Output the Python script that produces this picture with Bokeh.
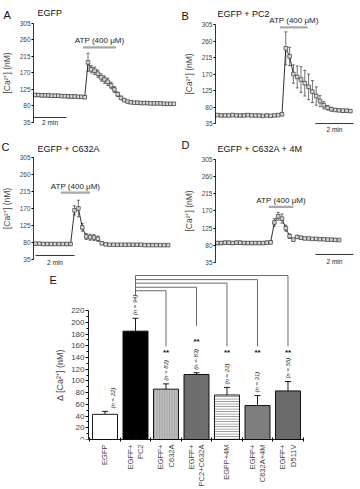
import math
from bokeh.plotting import figure
from bokeh.layouts import column, row
from bokeh.models import Range1d, FixedTicker, Label, Whisker, TeeHead, ColumnDataSource
from bokeh.embed import file_html
from bokeh.resources import INLINE
from bokeh.core.properties import value

FONT = "Liberation Sans"
STEP_MIN = 0.2  # sampling interval of the traces (min)

# ---------------- data: Ca2+ traces (nM), mean and SEM ----------------
A_ca = [110, 110, 109, 109, 109, 108, 108, 108, 107, 107, 106, 106, 106, 105, 105, 104,
        199, 180, 176, 168, 158, 152, 146, 136, 125, 112, 102, 96, 92, 90,
        89, 89, 88, 88, 88, 87, 87, 87, 87, 86, 86, 86, 86]
A_sem = [4, 4, 4, 4, 4, 4, 4, 4, 4, 4, 4, 4, 4, 4, 4, 4,
         25, 10, 10, 10, 10, 10, 10, 9, 8, 6, 5, 4, 3, 3,
         3, 3, 3, 3, 3, 3, 3, 3, 3, 3, 3, 3, 3]

B_ca = [58, 57, 57, 57, 58, 57, 57, 57, 58, 57, 57, 57, 56, 57, 56, 57, 58, 60,
        240, 218, 170, 162, 155, 145, 135, 122, 110, 96, 85, 78, 74,
        72, 71, 70, 70, 69]
B_sem = [3, 3, 3, 3, 3, 3, 3, 3, 3, 3, 3, 3, 3, 3, 3, 3, 3, 3,
         45, 25, 25, 30, 35, 35, 35, 30, 25, 15, 10, 6, 5,
         4, 4, 4, 4, 4]

C_ca = [77, 77, 76, 76, 76, 76, 76, 76, 76, 76,
        165, 170, 120, 96, 94, 93, 90, 78, 75,
        74, 74, 74, 74, 74, 74, 74, 74, 74, 73, 73, 73, 73, 73, 73, 73]
C_sem = [3, 3, 3, 3, 3, 3, 3, 3, 3, 3,
         12, 22, 10, 8, 8, 8, 7, 4, 3,
         2, 2, 2, 2, 2, 2, 2, 2, 2, 2, 2, 2, 2, 2, 2, 2]

D_ca = [86, 86, 87, 87, 86, 87, 87, 86, 86, 86, 86, 86, 86, 87, 88,
        140, 156, 150, 125, 104, 95, 102, 100, 98,
        98, 97, 97, 96, 96, 95, 95, 94, 94]
D_sem = [4, 4, 4, 4, 4, 4, 4, 4, 4, 4, 4, 4, 4, 4, 4,
         10, 10, 12, 8, 6, 4, 4, 4, 3,
         3, 3, 3, 3, 3, 3, 3, 3, 3]

ATP_on = [2.9, 3.3, 1.3, 2.7]     # min
ATP_off = [4.9, 4.75, 2.8, 4.0]   # min
panel_letters = ["A", "B", "C", "D"]
panel_titles = ["EGFP", "EGFP + PC2", "EGFP + C632A", "EGFP + C632A + 4M"]
trace_ticks = [35, 80, 125, 170, 215, 260, 305]

# ---------------- data: bar chart ----------------
bar_labels = ["EGFP", "EGFP+\nPC2", "EGFP+\nC632A", "EGFP+\nPC2+C632A",
              "EGFP+4M", "EGFP+\nC632A+4M", "EGFP+\nD511V"]
bar_mean = [43, 185, 86, 111, 76, 58, 83]
bar_sem = [5, 22, 9, 3, 13, 17, 16]
bar_n = [22, 94, 82, 83, 22, 31, 55]
bar_sig = ["", "", "**", "**", "**", "**", "**"]
bar_ticks = [0, 20, 40, 60, 80, 100, 120, 140, 160, 180, 200, 220]


def px2data(px, py, w, h, xr, yr):
    return (xr[0] + px * (xr[1] - xr[0]) / w, yr[1] - py * (yr[1] - yr[0]) / h)


def trace_panel(i, ca, sem, w, h, xr, yr, atp_y, sb, sb_y, sb_ty, letter_px, title_px):
    t = [k * STEP_MIN for k in range(len(ca))]
    p = figure(width=w, height=h, output_backend="svg", toolbar_location=None,
               x_range=Range1d(*xr), y_range=Range1d(*yr), x_axis_location=None,
               min_border_left=0, min_border_right=0, min_border_top=0,
               min_border_bottom=0)
    p.outline_line_color = None
    p.grid.visible = False
    ax = p.yaxis[0]
    ax.fixed_location = -0.1
    ax.ticker = FixedTicker(ticks=trace_ticks)
    ax.bounds = (35, 305)
    ax.axis_label = "[Ca²⁺] (nM)"
    ax.axis_label_text_font = FONT
    ax.axis_label_text_font_size = "8.5px"
    ax.axis_label_text_font_style = "normal"
    ax.axis_label_standoff = 5
    ax.major_label_text_font = FONT
    ax.major_label_text_font_size = "6.5px"
    ax.major_label_standoff = 1
    ax.major_tick_in = 0
    ax.major_tick_out = 2
    ax.minor_tick_in = 0
    ax.minor_tick_out = 0
    ax.axis_line_width = 0.8
    src = ColumnDataSource(dict(t=t, ca=ca,
                                lo=[c - s for c, s in zip(ca, sem)],
                                hi=[c + s for c, s in zip(ca, sem)]))
    p.line("t", "ca", source=src, line_color="black", line_width=0.8)
    p.add_layout(Whisker(source=src, base="t", upper="hi", lower="lo",
                         line_color="#333333", line_width=0.7,
                         upper_head=TeeHead(size=3, line_color="#333333", line_width=0.7),
                         lower_head=TeeHead(size=3, line_color="#333333", line_width=0.7)))
    p.scatter("t", "ca", source=src, marker="square", size=3.6,
              fill_color="#d8d8d8", line_color="#3a3a3a", line_width=0.7)
    # ATP application bar
    p.segment(x0=[ATP_on[i]], y0=[atp_y], x1=[ATP_off[i]], y1=[atp_y],
              line_color="#a8a8a8", line_width=2.2)
    p.text(x=[(ATP_on[i] + ATP_off[i]) / 2], y=[atp_y], text=["ATP (400 μM)"],
           text_font=value(FONT), text_font_size="8px", text_align="center",
           text_baseline="bottom", y_offset=-2, text_color="#222222")
    # scale bar
    p.segment(x0=[sb[0]], y0=[sb_y], x1=[sb[1]], y1=[sb_y], line_color="black", line_width=0.8)
    p.text(x=[(sb[0] + sb[1]) / 2], y=[sb_ty], text=["2 min"], text_font=value(FONT),
           text_font_size="6.5px", text_align="center", text_baseline="top",
           text_color="#222222")
    lx, ly = px2data(letter_px[0], letter_px[1], w, h, xr, yr)
    p.add_layout(Label(x=lx, y=ly, text=panel_letters[i], text_font=FONT,
                       text_font_size="11px", text_baseline="alphabetic",
                       text_color="#111111"))
    tx, ty = px2data(title_px[0], title_px[1], w, h, xr, yr)
    p.add_layout(Label(x=tx, y=ty, text=panel_titles[i], text_font=FONT,
                       text_font_size="9px", text_baseline="alphabetic",
                       text_color="#111111"))
    return p


pA = trace_panel(0, A_ca, A_sem, 180, 133, (-2.103, 8.806), (5.0, 367.7), 240,
                 (-0.1, 1.9), 48.7, 43.2, (3, 14), (37, 12.5))
pB = trace_panel(1, B_ca, B_sem, 180, 133, (-1.942, 7.532), (7.8, 370.5), 297,
                 (5.16, 7.16), 35, 27, (1, 15), (37, 13.5))
pC = trace_panel(2, C_ca, C_sem, 180, 134, (-1.795, 7.436), (13.8, 368.5), 212,
                 (0.0, 2.0), 45.6, 37.6, (1, 13), (37, 15))
pD = trace_panel(3, D_ca, D_sem, 180, 134, (-1.942, 7.532), (21.9, 373.1), 181,
                 (5.16, 7.16), 56, 48, (1, 11), (37, 15))

# ---------------- bar chart ----------------
E_xr = (-2.426, 9.377)
E_yr = (0, 293.7)
pE = figure(width=360, height=222, output_backend="svg", toolbar_location=None,
            x_range=Range1d(*E_xr), y_range=Range1d(*E_yr),
            min_border_left=0, min_border_right=0, min_border_top=0, min_border_bottom=45)
pE.outline_line_color = None
pE.grid.visible = False

xs = [k + 1 for k in range(len(bar_mean))]
bar_fill = ["white", "black", "#bdbdbd", "#707070", "white", "#7e7e7e", "#6b6b6b"]
bar_hatch = [" ", " ", "|", "|", "-", " ", " "]
bar_hcol = ["black", "black", "#9a9a9a", "#666666", "#737373", "black", "black"]
bsrc = ColumnDataSource(dict(x=xs, top=bar_mean, hi=[m + s for m, s in zip(bar_mean, bar_sem)],
                             fill=bar_fill, hatch=bar_hatch, hcol=bar_hcol))
pE.vbar(x="x", top="top", bottom=0, width=0.82, source=bsrc, fill_color="fill",
        line_color="black", line_width=0.9, hatch_pattern="hatch", hatch_color="hcol",
        hatch_scale=2.5, hatch_weight=0.8)
pE.add_layout(Whisker(source=bsrc, base="x", upper="hi", lower="top", line_color="black",
                      line_width=0.9, upper_head=TeeHead(size=6, line_color="black", line_width=0.9),
                      lower_head=None))

# n labels
nx = [x + (0.25 if k == 0 else 0) for k, x in enumerate(xs)]
pE.text(x=nx, y=[m + s for m, s in zip(bar_mean, bar_sem)], text=[f"(n = {n})" for n in bar_n],
        angle=math.pi / 2, text_align="left", text_baseline="middle", y_offset=-3,
        text_font=value(FONT), text_font_size="6px", text_font_style="italic",
        text_color="#222222")

# significance brackets (layout levels in nM)
levels = {3: 254, 4: 260, 5: 267, 6: 273, 7: 280}
ends = {3: 159, 4: 194, 5: 159, 6: 159, 7: 159}
star_y = {3: 148, 4: 168, 5: 148, 6: 148, 7: 148}
x0, y0, x1, y1 = [2], [280], [2], [246]
for k in range(3, 8):
    x0 += [2, k]
    y0 += [levels[k], levels[k]]
    x1 += [k, k]
    y1 += [levels[k], ends[k]]
pE.segment(x0=x0, y0=y0, x1=x1, y1=y1, line_color="#444444", line_width=0.8)
sx = [k + 1 for k, s in enumerate(bar_sig) if s]
pE.text(x=sx, y=[star_y[k] for k in sx], text=[s for s in bar_sig if s],
        text_align="center", text_baseline="middle", text_font=value(FONT),
        text_font_size="8px", text_font_style="bold", text_color="#111111")

ya = pE.yaxis[0]
ya.fixed_location = 0.459
ya.ticker = FixedTicker(ticks=bar_ticks, minor_ticks=[v + 10 for v in bar_ticks[:-1]])
ya.bounds = (0, 220)
ya.axis_label = "Δ [Ca²⁺] (nM)"
ya.axis_label_text_font = FONT
ya.axis_label_text_font_size = "9px"
ya.axis_label_text_font_style = "normal"
ya.axis_label_standoff = 3
ya.major_label_text_font = FONT
ya.major_label_text_font_size = "8px"
ya.major_label_standoff = 1
ya.major_tick_in = 0
ya.major_tick_out = 3
ya.minor_tick_in = 0
ya.minor_tick_out = 2
ya.axis_line_width = 0.9

xa = pE.xaxis[0]
xa.ticker = FixedTicker(ticks=xs, minor_ticks=[x - 0.5 for x in xs] + [7.5])
xa.major_label_overrides = {float(x): lab for x, lab in zip(xs, bar_labels)}
xa.major_label_orientation = math.pi / 2
xa.major_label_text_font = FONT
xa.major_label_text_font_size = "7.5px"
xa.major_label_standoff = 3
xa.major_tick_in = 0
xa.major_tick_out = 0
xa.minor_tick_in = 2
xa.minor_tick_out = 2
xa.bounds = (0.459, 7.5)
xa.axis_line_width = 0.9

ex, ey = px2data(49, 13, 360, 177, E_xr, E_yr)
pE.add_layout(Label(x=ex, y=ey, text="E", text_font=FONT, text_font_size="11px",
                    text_baseline="alphabetic", text_color="#111111"))

layout = column(row(pA, pB), row(pC, pD), pE)
open("out.html", "w").write(file_html(layout, INLINE))
